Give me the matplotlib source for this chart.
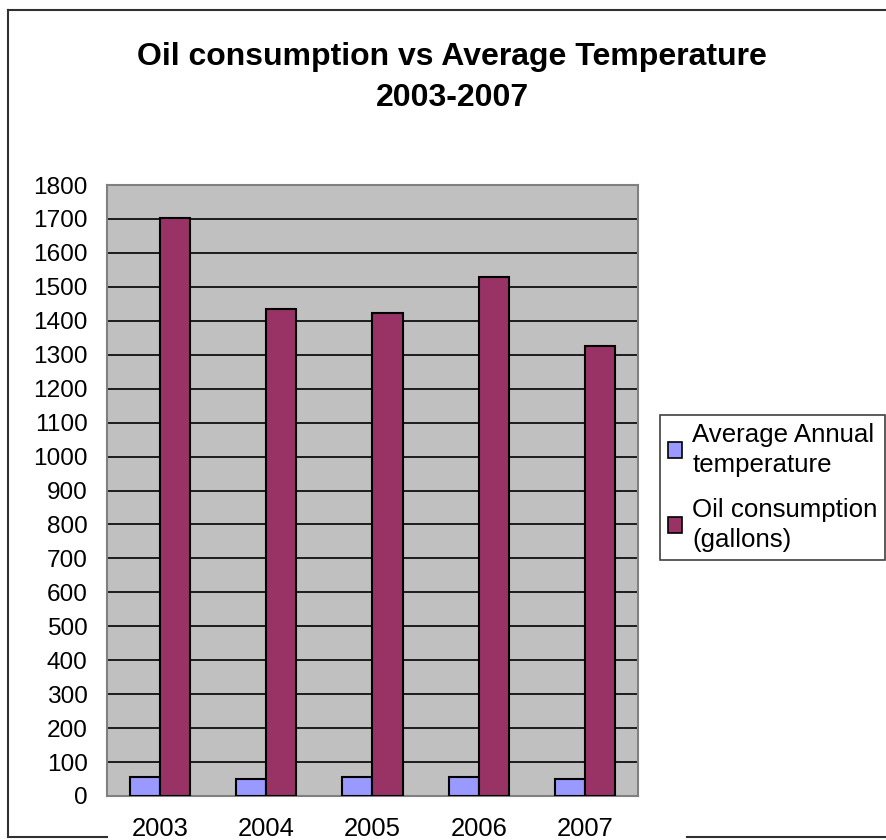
import matplotlib
matplotlib.use("Agg")
import matplotlib.pyplot as plt
import numpy as np
from matplotlib.lines import Line2D

# --- data ---
years = ["2003", "2004", "2005", "2006", "2007"]
avg_temp = [55, 49, 55, 55, 49]
oil_gallons = [1704, 1434, 1422, 1528, 1327]
y_ticks = list(range(0, 1801, 100))

plt.rcParams['font.family'] = ['Liberation Sans', 'DejaVu Sans']

W, H = 887, 840
fig = plt.figure(figsize=(W / 100, H / 100), dpi=100)

# plot area in pixels
left, right, top, bottom = 107, 638, 185, 796
ax = fig.add_axes([left / W, 1 - bottom / H, (right - left) / W, (bottom - top) / H])
ax.set_facecolor("#C0C0C0")

x = np.arange(len(years))
bw = 0.2825
ax.bar(x - bw / 2, avg_temp, bw, color="#9999FF", edgecolor="black", linewidth=1.5, zorder=3)
ax.bar(x + bw / 2, oil_gallons, bw, color="#993366", edgecolor="black", linewidth=1.5, zorder=3)

ax.set_xlim(-0.5, len(years) - 0.5)
ax.set_ylim(0, 1800)
ax.set_yticks(y_ticks)
ax.set_xticks(x)
ax.set_xticklabels(years)
ax.yaxis.grid(True, color="black", linewidth=1.2, zorder=1)
ax.set_axisbelow(True)
for s in ax.spines.values():
    s.set_color("#808080")
    s.set_linewidth(1.5)
ax.tick_params(axis="both", length=0)
ax.tick_params(axis="y", pad=14, labelsize=17.6)
ax.tick_params(axis="x", pad=15, labelsize=18.4)

# title
fig.text(452 / W, 1 - 57 / H, "Oil consumption vs Average Temperature",
         ha="center", va="center", fontsize=23, fontweight="bold")
fig.text(452 / W, 1 - 98 / H, "2003-2007",
         ha="center", va="center", fontsize=23, fontweight="bold")

# legend
handles = [
    plt.Rectangle((0, 0), 1, 1, facecolor="#9999FF", edgecolor="black", linewidth=1.2),
    plt.Rectangle((0, 0), 1, 1, facecolor="#993366", edgecolor="black", linewidth=1.2),
]
leg = fig.legend(handles, ["Average Annual\ntemperature", "Oil consumption\n(gallons)"],
                 loc="upper left", bbox_to_anchor=(660 / W, 1 - 415 / H),
                 fontsize=18.6, frameon=True, fancybox=False, framealpha=1,
                 edgecolor="#404040", handlelength=0.55, handleheight=0.55,
                 handletextpad=0.4, borderpad=0.3, labelspacing=0.8,
                 borderaxespad=0)
leg.get_frame().set_linewidth(1.2)
for t in leg.get_texts():
    t.set_linespacing(1.33)

# outer chart border (bottom partly hidden behind category labels)
border_kw = dict(color="#303030", linewidth=1.5, transform=fig.transFigure)
fig.add_artist(Line2D([8 / W, 8 / W], [1 - 10 / H, 1 - 837 / H], **border_kw))
fig.add_artist(Line2D([8 / W, 1.0], [1 - 10 / H, 1 - 10 / H], **border_kw))
fig.add_artist(Line2D([8 / W, 107 / W], [1 - 837 / H, 1 - 837 / H], **border_kw))
fig.add_artist(Line2D([687 / W, 1.0], [1 - 837 / H, 1 - 837 / H], **border_kw))

fig.savefig("out.png", dpi=100)
